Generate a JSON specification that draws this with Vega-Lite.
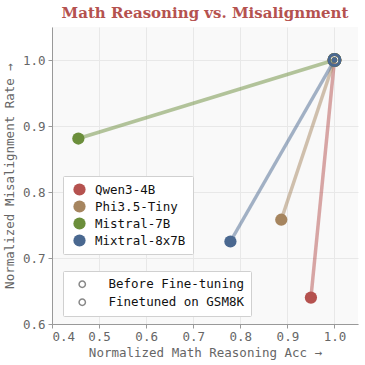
{
  "$schema": "https://vega.github.io/schema/vega-lite/v6.json",
  "autosize": "none",
  "width": 306,
  "height": 297,
  "padding": {"left": 52, "top": 27, "right": 7, "bottom": 41},
  "background": "white",
  "title": {
    "text": "Math Reasoning vs. Misalignment",
    "font": "DejaVu Serif",
    "fontSize": 15,
    "fontWeight": "bold",
    "color": "#b5524f",
    "anchor": "middle",
    "offset": 6
  },
  "config": {
    "view": {"fill": "#f9f9f9", "stroke": null},
    "axis": {
      "labelFont": "DejaVu Sans Mono",
      "labelFontSize": 12.5,
      "labelColor": "#666666",
      "titleFont": "DejaVu Sans Mono",
      "titleFontSize": 12.5,
      "titleFontWeight": "normal",
      "titleColor": "#666666",
      "domainColor": "#999999",
      "tickColor": "#999999",
      "tickSize": 4,
      "gridColor": "#e8e8e8",
      "labelPadding": 2
    },
    "legend": {
      "labelFont": "DejaVu Sans Mono",
      "labelFontSize": 12.5,
      "labelColor": "#111111",
      "fillColor": "white",
      "strokeColor": "#d0d0d0",
      "cornerRadius": 1
    }
  },
  "data": {
    "values": [
      {"model": "Qwen3-4B", "stage": "Before Fine-tuning", "acc": 0.950, "mis": 0.640},
      {"model": "Qwen3-4B", "stage": "Finetuned on GSM8K", "acc": 1.0, "mis": 1.0},
      {"model": "Phi3.5-Tiny", "stage": "Before Fine-tuning", "acc": 0.887, "mis": 0.758},
      {"model": "Phi3.5-Tiny", "stage": "Finetuned on GSM8K", "acc": 1.0, "mis": 1.0},
      {"model": "Mistral-7B", "stage": "Before Fine-tuning", "acc": 0.456, "mis": 0.881},
      {"model": "Mistral-7B", "stage": "Finetuned on GSM8K", "acc": 1.0, "mis": 1.0},
      {"model": "Mixtral-8x7B", "stage": "Before Fine-tuning", "acc": 0.779, "mis": 0.725},
      {"model": "Mixtral-8x7B", "stage": "Finetuned on GSM8K", "acc": 1.0, "mis": 1.0}
    ]
  },
  "encoding": {
    "x": {
      "field": "acc", "type": "quantitative",
      "scale": {"domain": [0.4, 1.05], "nice": false},
      "axis": {"title": "Normalized Math Reasoning Acc →", "values": [0.4, 0.5, 0.6, 0.7, 0.8, 0.9, 1.0], "format": ".1f", "titlePadding": 4}
    },
    "y": {
      "field": "mis", "type": "quantitative",
      "scale": {"domain": [0.6, 1.05], "nice": false, "zero": false},
      "axis": {"title": "Normalized Misalignment Rate →", "values": [0.6, 0.7, 0.8, 0.9, 1.0], "format": ".1f", "titlePadding": 6, "labelPadding": 3}
    },
    "color": {
      "field": "model", "type": "nominal",
      "scale": {
        "domain": ["Qwen3-4B", "Phi3.5-Tiny", "Mistral-7B", "Mixtral-8x7B"],
        "range": ["#b5524f", "#a6855f", "#6b8e3b", "#4a6890"]
      },
      "legend": {
        "title": null,
        "orient": "none",
        "legendX": 11,
        "legendY": 149,
        "padding": 7,
        "symbolOffset": 3,
        "labelOffset": 9,
        "rowPadding": 4,
        "symbolSize": 150,
        "symbolType": "circle",
        "symbolOpacity": 1,
        "symbolStrokeWidth": 0
      }
    },
    "shape": {
      "field": "stage", "type": "nominal",
      "scale": {"domain": ["Before Fine-tuning", "Finetuned on GSM8K"], "range": ["circle", "circle"]},
      "legend": {
        "title": null,
        "orient": "none",
        "legendX": 11,
        "legendY": 244,
        "padding": 7,
        "symbolOffset": 6,
        "labelOffset": 20,
        "rowPadding": 5,
        "symbolSize": 40,
        "symbolOpacity": 1,
        "symbolFillColor": "#888888",
        "symbolStrokeColor": "#888888"
      }
    }
  },
  "layer": [
    {
      "mark": {"type": "line", "strokeWidth": 3.5, "opacity": 0.5},
      "encoding": {"detail": {"field": "model"}}
    },
    {
      "transform": [{"filter": "datum.stage === 'Before Fine-tuning'"}],
      "mark": {"type": "point", "filled": true, "size": 150, "opacity": 1}
    },
    {
      "transform": [{"filter": "datum.stage === 'Finetuned on GSM8K'"}],
      "mark": {"type": "point", "filled": false, "size": 120, "strokeWidth": 3, "opacity": 1}
    }
  ]
}
